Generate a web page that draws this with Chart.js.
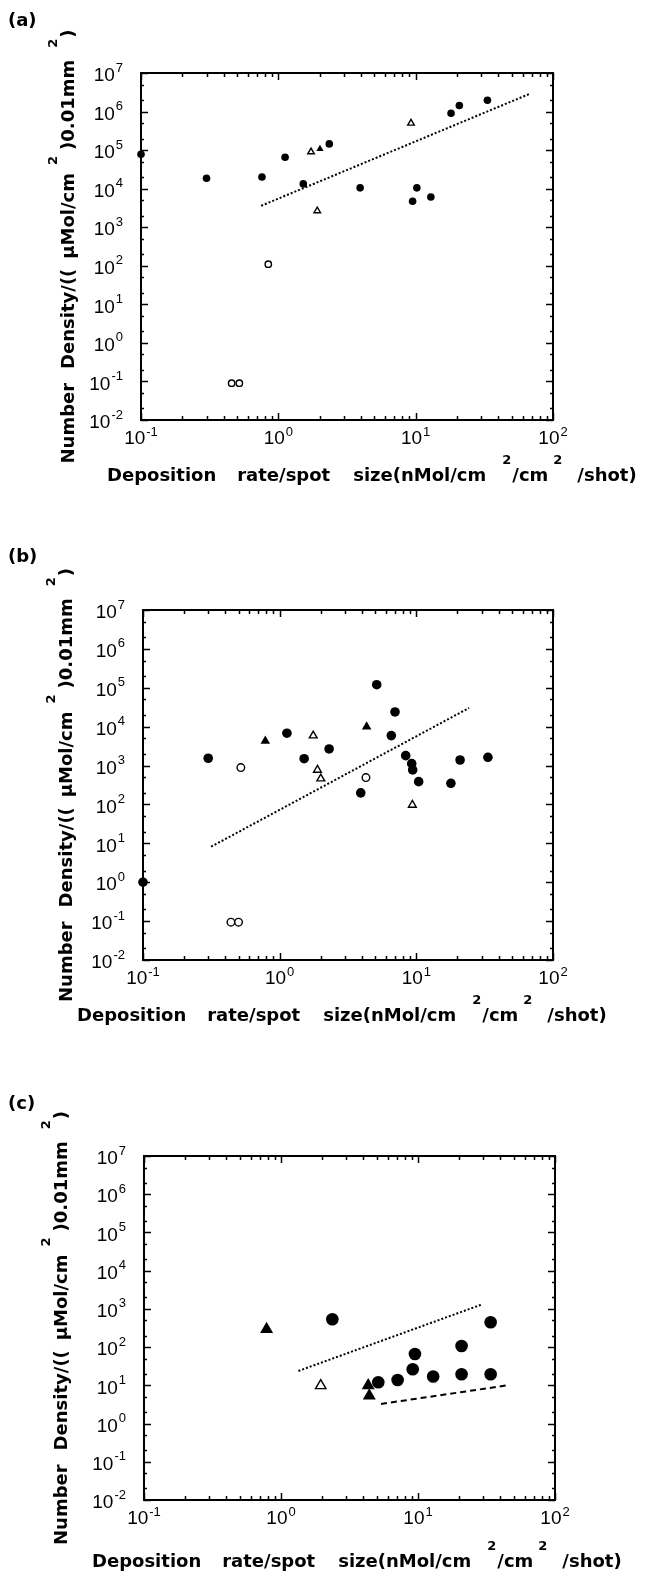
<!DOCTYPE html>
<html>
<head>
<meta charset="utf-8">
<script src="https://cdn.jsdelivr.net/npm/chart.js@4.4.1/dist/chart.umd.min.js"></script>
<style>
  body { margin: 0; background: #fff; width: 653px; height: 1578px; position: relative; overflow: hidden; }
  canvas { position: absolute; left: 0; }
</style>
</head>
<body>
<canvas id="chart-a" width="653" height="520" style="top:0px"></canvas>
<canvas id="chart-b" width="653" height="520" style="top:520px"></canvas>
<canvas id="chart-c" width="653" height="538" style="top:1040px"></canvas>
<script>
// axis decades (exponents of 10)
const X_TICK_EXP = [-1, 0, 1, 2];
const Y_TICK_EXP = [-2, -1, 0, 1, 2, 3, 4, 5, 6, 7];

// (a)
const A_CIRCLE_X = [0.1, 0.30, 0.76, 1.12, 1.52, 2.35, 3.94, 9.5, 10.2, 12.9, 18.1, 20.8, 33.3];
const A_CIRCLE_Y = [7.8e4, 1.86e4, 2.0e4, 6.5e4, 1.33e4, 1.45e5, 1.05e4, 4.7e3, 1.05e4, 6.1e3, 9.0e5, 1.43e6, 1.96e6];
const A_OPEN_CIRCLE_X = [0.845, 0.457, 0.52];
const A_OPEN_CIRCLE_Y = [110, 0.09, 0.09];
const A_TRI_X = [2.01];
const A_TRI_Y = [1.07e5];
const A_OPEN_TRI_X = [1.73, 1.92, 9.25];
const A_OPEN_TRI_Y = [9.0e4, 2.66e3, 4.97e5];
const A_FIT_X = [0.75, 67.3];
const A_FIT_Y = [3.6e3, 2.86e6];

// (b)
const B_CIRCLE_X = [0.1, 0.30, 1.13, 1.51, 2.30, 3.92, 5.13, 6.56, 6.98, 8.36, 9.25, 9.4, 10.4, 17.9, 20.9, 33.4];
const B_CIRCLE_Y = [1.0, 1540, 6.8e3, 1.5e3, 2.67e3, 198, 1.2e5, 5.9e3, 2.39e4, 1.8e3, 1.12e3, 770, 386, 350, 1.39e3, 1.63e3];
const B_OPEN_CIRCLE_X = [0.52, 4.28, 0.44, 0.50];
const B_OPEN_CIRCLE_Y = [885, 490, 0.094, 0.094];
const B_TRI_X = [0.785, 4.33];
const B_TRI_Y = [4.3e3, 1.0e4];
const B_OPEN_TRI_X = [1.76, 1.89, 2.0, 9.35];
const B_OPEN_TRI_Y = [5.9e3, 770, 460, 97];
const B_FIT_X = [0.315, 24.3];
const B_FIT_Y = [8.2, 3.03e4];

// (c)
const C_CIRCLE_X = [2.37, 33.9, 20.8, 9.5, 9.15, 5.13, 7.1, 12.9, 20.8, 33.9];
const C_CIRCLE_Y = [535, 447, 107, 66, 26.3, 12.0, 13.8, 17.0, 19.5, 19.5];
const C_TRI_X = [0.785, 4.33, 4.41];
const C_TRI_Y = [293, 9.9, 5.3];
const C_OPEN_TRI_X = [1.95];
const C_OPEN_TRI_Y = [9.8];
const C_FIT_X = [1.34, 29.5];
const C_FIT_Y = [23.8, 1320];
const C_DASH_X = [5.37, 44.9];
const C_DASH_Y = [3.26, 10.0];

const X_TITLE = [
  { t: 'Deposition' }, { gap: 21 }, { t: 'rate/spot' }, { gap: 23 }, { t: 'size(nMol/cm' }, { gap: 16 },
  { t: '2', sup: true }, { gap: 1 }, { t: '/cm' }, { gap: 5 }, { t: '2', sup: true }, { gap: 15 }, { t: '/shot)' },
];
const Y_TITLE = [
  { t: 'Number' }, { gap: 14 }, { t: 'Density/((' }, { gap: 10 }, { t: '\u00b5Mol/cm' }, { gap: 8 },
  { t: '2', sup: true }, { gap: 6 }, { t: ')0.01mm' }, { gap: 12 }, { t: '2', sup: true }, { gap: 1 }, { t: ')' },
];

const FONT_TITLE = 'bold 18px "DejaVu Sans"';
const FONT_SUP = 'bold 13px "DejaVu Sans"';
const FONT_TICK = '19px "Liberation Sans"';
const FONT_TICK_SUP = '13px "Liberation Sans"';

function pts(xs, ys) {
  return xs.map((x, i) => ({ x, y: ys[i] }));
}

function markers(xs, ys, style, filled, r) {
  return {
    data: pts(xs, ys),
    showLine: false,
    pointStyle: style,
    pointRadius: r,
    pointBackgroundColor: filled ? '#000' : '#fff',
    pointBorderColor: '#000',
    pointBorderWidth: filled ? 0 : 1.4,
    clip: false,
  };
}

function fitLine(xs, ys, dash) {
  return {
    data: pts(xs, ys),
    showLine: true,
    borderColor: '#000',
    borderWidth: 2,
    borderDash: dash,
    pointRadius: 0,
    fill: false,
  };
}

function piecesWidth(ctx, pieces) {
  let w = 0;
  pieces.forEach(p => {
    if (p.gap) { w += p.gap; return; }
    ctx.font = p.sup ? FONT_SUP : FONT_TITLE;
    w += ctx.measureText(p.t).width;
  });
  return w;
}

function drawPieces(ctx, pieces, x0, y0) {
  let x = x0;
  ctx.textBaseline = 'middle';
  ctx.textAlign = 'left';
  pieces.forEach(p => {
    if (p.gap) { x += p.gap; return; }
    ctx.font = p.sup ? FONT_SUP : FONT_TITLE;
    ctx.fillText(p.t, x, p.sup ? y0 - 15 : y0);
    x += ctx.measureText(p.t).width;
  });
}

const framePlugin = {
  id: 'frame',
  afterDraw(chart, args, o) {
    const { ctx, chartArea: a, scales: { x, y } } = chart;
    ctx.save();
    ctx.fillStyle = '#000';
    ctx.strokeStyle = '#000';

    // tick marks, inside the box on all four sides
    ctx.lineWidth = 1.5;
    const seg = (x1, y1, x2, y2) => { ctx.beginPath(); ctx.moveTo(x1, y1); ctx.lineTo(x2, y2); ctx.stroke(); };
    X_TICK_EXP.forEach(e => {
      for (let m = 1; m < 10; m++) {
        if (e === X_TICK_EXP[X_TICK_EXP.length - 1] && m > 1) break;
        const px = Math.round(x.getPixelForValue(m * Math.pow(10, e))) + 0.5;
        const len = m === 1 ? 7 : 4;
        seg(px, a.bottom, px, a.bottom - len);
        seg(px, a.top, px, a.top + len);
      }
    });
    Y_TICK_EXP.forEach(e => {
      [1, 2, 5].forEach(m => {
        if (e === Y_TICK_EXP[Y_TICK_EXP.length - 1] && m > 1) return;
        const py = Math.round(y.getPixelForValue(m * Math.pow(10, e))) + 0.5;
        const len = m === 1 ? 7 : 3;
        seg(a.left, py, a.left + len, py);
        seg(a.right, py, a.right - len, py);
      });
    });

    // box
    ctx.lineWidth = 2;
    ctx.strokeRect(a.left, a.top, a.right - a.left, a.bottom - a.top);

    // y tick labels
    ctx.textBaseline = 'middle';
    ctx.textAlign = 'left';
    Y_TICK_EXP.forEach(e => {
      const py = y.getPixelForValue(Math.pow(10, e));
      ctx.font = FONT_TICK_SUP;
      const w2 = ctx.measureText(String(e)).width;
      ctx.font = FONT_TICK;
      const w1 = ctx.measureText('10').width;
      const right = a.left - 18;
      ctx.fillText('10', right - w2 - 1 - w1, py + 3);
      ctx.font = FONT_TICK_SUP;
      ctx.fillText(String(e), right - w2, py - 5);
    });

    // x tick labels
    X_TICK_EXP.forEach(e => {
      const px = x.getPixelForValue(Math.pow(10, e));
      ctx.font = FONT_TICK_SUP;
      const w2 = ctx.measureText(String(e)).width;
      ctx.font = FONT_TICK;
      const w1 = ctx.measureText('10').width;
      const start = px - (w1 + 1 + w2) / 2;
      ctx.fillText('10', start, a.bottom + 19);
      ctx.font = FONT_TICK_SUP;
      ctx.fillText(String(e), start + w1 + 1, a.bottom + 12);
    });

    // x title
    drawPieces(ctx, X_TITLE, o.xTitleLeft, a.bottom + o.xTitleDy);

    // y title, rotated, centred on the box
    ctx.save();
    ctx.translate(o.yTitleX, (a.top + a.bottom) / 2);
    ctx.rotate(-Math.PI / 2);
    const w = piecesWidth(ctx, Y_TITLE);
    drawPieces(ctx, Y_TITLE, -w / 2, 0);
    ctx.restore();

    // panel letter
    ctx.font = FONT_TITLE;
    ctx.fillText(o.letter, 8, o.letterY);
    ctx.restore();
  },
};

function makePanel(id, canvasTop, box, datasets, opts) {
  const cv = document.getElementById(id);
  return new Chart(cv, {
    type: 'scatter',
    data: { datasets },
    plugins: [framePlugin],
    options: {
      responsive: false,
      animation: false,
      events: [],
      layout: {
        padding: {
          left: box.l,
          right: cv.width - box.r,
          top: box.t - canvasTop,
          bottom: canvasTop + cv.height - box.b,
        },
      },
      plugins: { legend: { display: false }, tooltip: { enabled: false }, frame: opts },
      scales: {
        x: { type: 'logarithmic', min: 0.1, max: 100, display: false },
        y: { type: 'logarithmic', min: 0.01, max: 1e7, display: false },
      },
    },
  });
}

makePanel('chart-a', 0, { l: 141, t: 73, r: 553, b: 420 }, [
  fitLine(A_FIT_X, A_FIT_Y, [2, 2]),
  markers(A_CIRCLE_X, A_CIRCLE_Y, 'circle', true, 3.8),
  markers(A_OPEN_CIRCLE_X, A_OPEN_CIRCLE_Y, 'circle', false, 3.2),
  markers(A_TRI_X, A_TRI_Y, 'triangle', true, 4.2),
  markers(A_OPEN_TRI_X, A_OPEN_TRI_Y, 'triangle', false, 3.8),
], { letter: '(a)', letterY: 21, xTitleLeft: 107, xTitleDy: 56, yTitleX: 69 });

makePanel('chart-b', 520, { l: 143, t: 610, r: 553, b: 960 }, [
  fitLine(B_FIT_X, B_FIT_Y, [2, 2]),
  markers(B_CIRCLE_X, B_CIRCLE_Y, 'circle', true, 4.8),
  markers(B_OPEN_CIRCLE_X, B_OPEN_CIRCLE_Y, 'circle', false, 3.8),
  markers(B_TRI_X, B_TRI_Y, 'triangle', true, 5.5),
  markers(B_OPEN_TRI_X, B_OPEN_TRI_Y, 'triangle', false, 4.5),
], { letter: '(b)', letterY: 557 - 520, xTitleLeft: 77, xTitleDy: 56, yTitleX: 67 });

makePanel('chart-c', 1040, { l: 144, t: 1156, r: 555, b: 1500 }, [
  fitLine(C_FIT_X, C_FIT_Y, [2, 2]),
  fitLine(C_DASH_X, C_DASH_Y, [6, 4]),
  markers(C_CIRCLE_X, C_CIRCLE_Y, 'circle', true, 6.3),
  markers(C_TRI_X, C_TRI_Y, 'triangle', true, 7.5),
  markers(C_OPEN_TRI_X, C_OPEN_TRI_Y, 'triangle', false, 6),
], { letter: '(c)', letterY: 1104 - 1040, xTitleLeft: 92, xTitleDy: 62, yTitleX: 62 });
</script>
</body>
</html>
